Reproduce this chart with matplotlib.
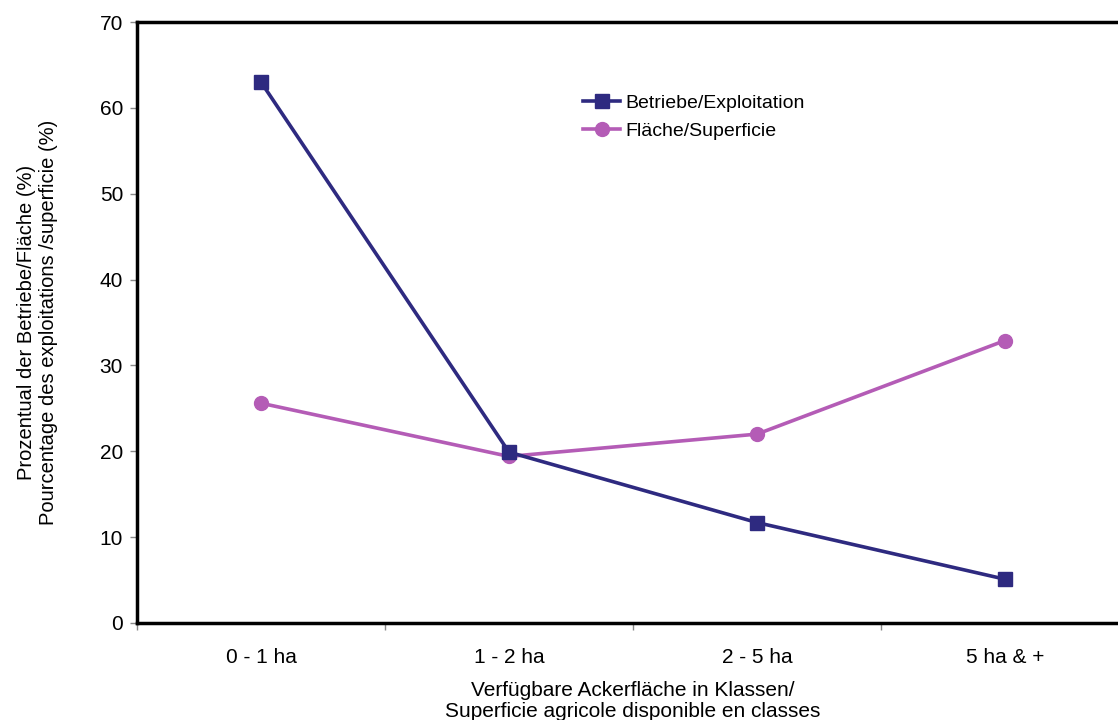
import matplotlib.pyplot as plt
from matplotlib.ticker import FixedLocator

plt.rcParams['font.family'] = ['Liberation Sans', 'DejaVu Sans']

categories = ['0 - 1 ha', '1 - 2 ha', '2 - 5 ha', '5 ha & +']
betriebe = [63.0, 19.9, 11.7, 5.1]
flaeche = [25.6, 19.4, 22.0, 32.9]
y_ticks = [0, 10, 20, 30, 40, 50, 60, 70]

fs = 15

fig = plt.figure(figsize=(11.18, 7.2), dpi=100)
ax = fig.add_axes([137 / 1118, 97 / 720, 992 / 1118, 601 / 720])

x = list(range(len(categories)))
ax.plot(x, betriebe, color='#2E2A80', linewidth=2.6, marker='s', markersize=10,
        label='Betriebe/Exploitation', zorder=3)
ax.plot(x, flaeche, color='#B45CB6', linewidth=2.6, marker='o', markersize=10,
        label='Fläche/Superficie', zorder=2)

ax.set_xlim(-0.5, len(categories) - 0.5)
ax.set_ylim(0, 70)
ax.set_yticks(y_ticks)
ax.set_xticks(x)
ax.set_xticklabels(categories)
ax.xaxis.set_minor_locator(FixedLocator([i - 0.5 for i in range(len(categories) + 1)]))

ax.tick_params(axis='x', which='major', length=0, pad=18, labelsize=fs)
ax.tick_params(axis='x', which='minor', length=5, width=1, color='#888888')
ax.tick_params(axis='y', length=5, width=1, color='#888888', labelsize=fs, pad=5)

for s in ax.spines.values():
    s.set_linewidth(2.5)
    s.set_color('black')

ax.set_xlabel('Verfügbare Ackerfläche in Klassen/\nSuperficie agricole disponible en classes',
              fontsize=fs, labelpad=10, linespacing=1.15)
ax.set_ylabel('Prozentual der Betriebe/Fläche (%)\nPourcentage des exploitations /superficie (%)',
              fontsize=14.5, labelpad=30, linespacing=1.2)

ax.legend(loc='upper left', bbox_to_anchor=(0.442, 0.893), frameon=False, fontsize=14,
          handlelength=1.9, handletextpad=0.25, labelspacing=0.55, borderaxespad=0)

fig.savefig('out.png', dpi=100)
